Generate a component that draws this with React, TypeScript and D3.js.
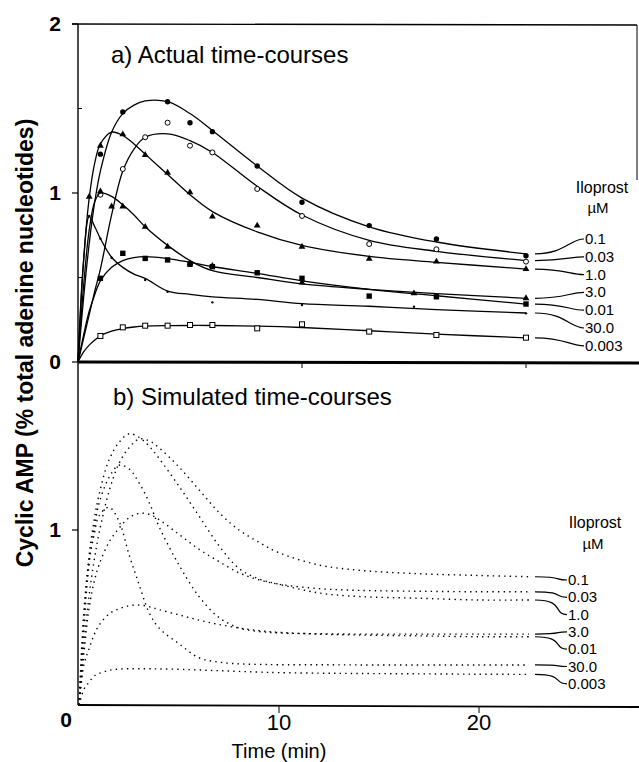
import React from "react";
import * as d3 from "d3";

const FONT = '"Liberation Sans", Arial, Helvetica, sans-serif';

// ---- panel a: fitted curves (time in min, cAMP %) ----
const fitTimes = [0, 0.25, 0.5, 0.75, 1, 1.5, 2, 2.5, 3, 4, 5, 6, 8, 10, 13, 16, 20];
const fit_0_1 = [0, 0.38, 0.7, 0.95, 1.13, 1.36, 1.47, 1.52, 1.545, 1.54, 1.47, 1.37, 1.16, 0.97, 0.8, 0.71, 0.64];
const fit_0_03 = [0, 0.14, 0.28, 0.42, 0.55, 0.87, 1.13, 1.26, 1.33, 1.35, 1.31, 1.24, 1.04, 0.87, 0.72, 0.655, 0.6];
const fit_1_0 = [0, 0.6, 0.97, 1.18, 1.29, 1.36, 1.34, 1.29, 1.23, 1.11, 0.99, 0.89, 0.77, 0.69, 0.625, 0.59, 0.55];
const fit_3_0 = [0, 0.45, 0.78, 0.95, 1.0, 0.98, 0.93, 0.87, 0.8, 0.69, 0.6, 0.54, 0.5, 0.462, 0.43, 0.405, 0.377];
const fit_0_01 = [0, 0.16, 0.3, 0.4, 0.48, 0.56, 0.6, 0.618, 0.623, 0.612, 0.59, 0.565, 0.525, 0.48, 0.43, 0.392, 0.343];
const fit_30 = [0, 0.6, 0.86, 0.8, 0.73, 0.62, 0.56, 0.52, 0.495, 0.42, 0.4, 0.385, 0.37, 0.345, 0.33, 0.31, 0.29];
const fit_0_003 = [0, 0.06, 0.1, 0.13, 0.155, 0.182, 0.198, 0.207, 0.212, 0.215, 0.216, 0.216, 0.212, 0.204, 0.185, 0.165, 0.143];

// ---- panel a: measured points ----
const pts_0_1_t = [1, 2, 4, 5, 6, 8, 10, 13, 16, 20];
const pts_0_1_v = [1.23, 1.48, 1.54, 1.416, 1.363, 1.16, 0.945, 0.807, 0.728, 0.629];
const pts_0_03_t = [1, 2, 3, 4, 5, 6, 8, 10, 13, 16, 20];
const pts_0_03_v = [0.99, 1.142, 1.33, 1.416, 1.28, 1.24, 1.024, 0.864, 0.698, 0.667, 0.594];
const pts_1_0_t = [0.5, 1, 2, 3, 4, 5, 6, 8, 10, 13, 16, 20];
const pts_1_0_v = [0.978, 1.28, 1.347, 1.225, 1.12, 1.004, 0.86, 0.807, 0.682, 0.61, 0.594, 0.55];
const pts_3_0_t = [1, 1.5, 2, 3, 4, 5, 6, 10, 15, 20];
const pts_3_0_v = [1.01, 0.92, 0.92, 0.8, 0.682, 0.584, 0.568, 0.47, 0.406, 0.377];
const pts_0_01_t = [1, 2, 3, 4, 5, 6, 8, 10, 13, 16, 20];
const pts_0_01_v = [0.495, 0.643, 0.613, 0.604, 0.578, 0.564, 0.528, 0.495, 0.39, 0.386, 0.343];
const pts_30_t = [0.5, 1, 1.5, 3, 4, 6, 10, 15, 20];
const pts_30_v = [0.864, 0.73, 0.617, 0.485, 0.416, 0.353, 0.337, 0.327, 0.288];
const pts_0_003_t = [1, 2, 3, 4, 5, 6, 8, 10, 13, 16, 20];
const pts_0_003_v = [0.154, 0.205, 0.215, 0.215, 0.219, 0.219, 0.199, 0.223, 0.18, 0.16, 0.144];

// ---- panel b: simulated curves ----
const simTimes = [0, 0.25, 0.5, 0.75, 1, 1.5, 2, 2.5, 3, 3.5, 4, 5, 6, 7, 8, 9, 10, 12, 14, 17, 20, 22.5];
const sim_0_1 = [0, 0.35, 0.62, 0.82, 0.98, 1.22, 1.38, 1.47, 1.52, 1.51, 1.47, 1.36, 1.23, 1.1, 1.0, 0.93, 0.87, 0.8, 0.77, 0.75, 0.74, 0.733];
const sim_0_03 = [0, 0.3, 0.55, 0.7, 0.8, 0.93, 1.01, 1.07, 1.095, 1.09, 1.06, 0.975, 0.89, 0.82, 0.755, 0.715, 0.69, 0.665, 0.655, 0.65, 0.647, 0.647];
const sim_1_0 = [0, 0.5, 0.85, 1.05, 1.2, 1.4, 1.5, 1.55, 1.53, 1.48, 1.41, 1.25, 1.08, 0.91, 0.78, 0.72, 0.69, 0.64, 0.62, 0.61, 0.6, 0.6];
const sim_3_0 = [0, 0.45, 0.8, 1.0, 1.15, 1.3, 1.37, 1.35, 1.27, 1.16, 1.02, 0.8, 0.62, 0.5, 0.44, 0.42, 0.412, 0.407, 0.405, 0.405, 0.405, 0.405];
const sim_0_01 = [0, 0.23, 0.32, 0.4, 0.455, 0.52, 0.55, 0.567, 0.571, 0.562, 0.545, 0.515, 0.485, 0.46, 0.44, 0.425, 0.415, 0.405, 0.4, 0.395, 0.39, 0.39];
const sim_30 = [0, 0.55, 0.82, 0.97, 1.08, 1.13, 1.05, 0.86, 0.69, 0.53, 0.44, 0.35, 0.27, 0.245, 0.235, 0.232, 0.23, 0.23, 0.229, 0.229, 0.229, 0.229];
const sim_0_003 = [0, 0.09, 0.13, 0.165, 0.18, 0.198, 0.205, 0.207, 0.207, 0.207, 0.206, 0.204, 0.2, 0.196, 0.192, 0.188, 0.185, 0.182, 0.18, 0.178, 0.176, 0.175];

// legend order (top to bottom)
const legendLabels = ["0.1", "0.03", "1.0", "3.0", "0.01", "30.0", "0.003"];

const fitSeries = [
  { label: "0.1", values: fit_0_1, t: pts_0_1_t, v: pts_0_1_v, marker: "filledCircle" },
  { label: "0.03", values: fit_0_03, t: pts_0_03_t, v: pts_0_03_v, marker: "openCircle" },
  { label: "1.0", values: fit_1_0, t: pts_1_0_t, v: pts_1_0_v, marker: "triangle" },
  { label: "3.0", values: fit_3_0, t: pts_3_0_t, v: pts_3_0_v, marker: "triangle" },
  { label: "0.01", values: fit_0_01, t: pts_0_01_t, v: pts_0_01_v, marker: "filledSquare" },
  { label: "30.0", values: fit_30, t: pts_30_t, v: pts_30_v, marker: "dot" },
  { label: "0.003", values: fit_0_003, t: pts_0_003_t, v: pts_0_003_v, marker: "openSquare" },
];

const simSeries = [
  { label: "0.1", values: sim_0_1 },
  { label: "0.03", values: sim_0_03 },
  { label: "1.0", values: sim_1_0 },
  { label: "3.0", values: sim_3_0 },
  { label: "0.01", values: sim_0_01 },
  { label: "30.0", values: sim_30 },
  { label: "0.003", values: sim_0_003 },
];

const W = 639;
const H = 762;

// scales: the two panels were pasted from different plots, so their time axes differ
const xTop = d3.scaleLinear().domain([0, 20]).range([78, 526]);
const yTop = d3.scaleLinear().domain([0, 2]).range([362, 24]);
const xBot = d3.scaleLinear().domain([0, 20]).range([79, 479]);
const yBot = d3.scaleLinear().domain([0, 1]).range([705, 530]);

const leader = (x0: number, y0: number, x1: number, y1: number) =>
  `M${x0},${y0} C${x0 + 30},${y0} ${x1 - 14},${y1} ${x1},${y1}`;

const Marker = ({ type, x, y }: { type: string; x: number; y: number }) => {
  if (type === "filledCircle") return <circle cx={x} cy={y} r={2.7} fill="#000" />;
  if (type === "openCircle") return <circle cx={x} cy={y} r={2.5} fill="#fff" stroke="#000" strokeWidth={1} />;
  if (type === "dot") return <circle cx={x} cy={y} r={1.2} fill="#000" />;
  if (type === "filledSquare") return <rect x={x - 2.7} y={y - 2.7} width={5.4} height={5.4} fill="#000" />;
  if (type === "openSquare")
    return <rect x={x - 2.5} y={y - 2.5} width={5} height={5} fill="#fff" stroke="#000" strokeWidth={1} />;
  const p = d3.symbol().type(d3.symbolTriangle).size(20)() as string;
  return <path d={p} transform={`translate(${x},${y})`} fill="#000" />;
};

export default function App() {
  const fitLine = d3
    .line<number>()
    .x((_, i) => xTop(fitTimes[i]))
    .y((d) => yTop(d))
    .curve(d3.curveCatmullRom.alpha(0.5));
  const simLine = d3
    .line<number>()
    .x((_, i) => xBot(simTimes[i]))
    .y((d) => yBot(d))
    .curve(d3.curveCatmullRom.alpha(0.5));

  const topEndX = xTop(20);
  const botEndX = xBot(simTimes[simTimes.length - 1]);

  return (
    <svg width={W} height={H} style={{ position: "absolute", left: 0, top: 0, background: "#fff" }} fontFamily={FONT}>
      <rect width={W} height={H} fill="#fff" />

      {/* frame + axes */}
      <line x1={72} y1={24} x2={637} y2={25} stroke="#000" strokeWidth={1.4} />
      <line x1={637} y1={25} x2={637} y2={180} stroke="#000" strokeWidth={1} />
      <line x1={78} y1={24} x2={78} y2={705} stroke="#000" strokeWidth={1.4} />
      <line x1={78} y1={362} x2={639} y2={363} stroke="#000" strokeWidth={3} />
      <line x1={78} y1={705} x2={639} y2={707} stroke="#000" strokeWidth={1.8} />

      {/* y ticks, panel a */}
      {[0, 1, 2].map((v) => (
        <g key={"yt" + v}>
          <line x1={72} x2={78} y1={yTop(v)} y2={yTop(v)} stroke="#000" strokeWidth={1.2} />
          <text x={61} y={yTop(v) + 7} textAnchor="end" fontSize={21} fontWeight="bold">
            {v}
          </text>
        </g>
      ))}
      {[0.5, 1.5].map((v) => (
        <line key={"ym" + v} x1={78} x2={82} y1={yTop(v)} y2={yTop(v)} stroke="#000" strokeWidth={1} />
      ))}
      {[10, 20].map((t) => (
        <line key={"xt" + t} x1={xTop(t)} x2={xTop(t)} y1={362} y2={368} stroke="#000" strokeWidth={1} />
      ))}

      {/* panel b ticks */}
      <line x1={72} x2={78} y1={yBot(1)} y2={yBot(1)} stroke="#000" strokeWidth={1.2} />
      <text x={61} y={yBot(1) + 7} textAnchor="end" fontSize={21} fontWeight="bold">
        1
      </text>
      <text x={66} y={727} textAnchor="middle" fontSize={21} fontWeight="bold">
        0
      </text>
      {[10, 20].map((t) => (
        <g key={"bx" + t}>
          <line x1={xBot(t)} x2={xBot(t)} y1={706} y2={713} stroke="#000" strokeWidth={1} />
          <text x={xBot(t)} y={730} textAnchor="middle" fontSize={22}>
            {t}
          </text>
        </g>
      ))}
      <text x={279} y={758} textAnchor="middle" fontSize={20}>
        Time (min)
      </text>
      <text
        transform="translate(33,343) rotate(-90)"
        textAnchor="middle"
        fontSize={23}
        fontWeight="bold"
      >
        Cyclic AMP (% total adenine nucleotides)
      </text>

      {/* titles */}
      <text x={111} y={63} fontSize={24}>
        a) Actual time-courses
      </text>
      <text x={113} y={405} fontSize={24}>
        b) Simulated time-courses
      </text>

      {/* panel a curves & points */}
      {fitSeries.map((s) => (
        <g key={"fit" + s.label}>
          <path d={fitLine(s.values) as string} fill="none" stroke="#000" strokeWidth={1.3} />
          {s.t.map((t, i) => (
            <Marker key={i} type={s.marker} x={xTop(t)} y={yTop(s.v[i])} />
          ))}
        </g>
      ))}

      {/* panel b dotted curves */}
      {simSeries.map((s) => (
        <path
          key={"sim" + s.label}
          d={simLine(s.values) as string}
          fill="none"
          stroke="#000"
          strokeWidth={1.4}
          strokeDasharray="1.4 4.2"
        />
      ))}

      {/* legend a */}
      <text x={602} y={193} textAnchor="middle" fontSize={16}>
        Iloprost
      </text>
      <text x={598} y={213} textAnchor="middle" fontSize={15}>
        µM
      </text>
      {fitSeries.map((s, i) => {
        const yl = 244 + i * 17.8;
        const y0 = yTop(s.values[s.values.length - 1]);
        return (
          <g key={"la" + s.label}>
            <path d={leader(topEndX + 9, y0, 584, yl - 5)} fill="none" stroke="#000" strokeWidth={1.2} />
            <text x={585} y={yl} fontSize={15}>
              {legendLabels[i]}
            </text>
          </g>
        );
      })}

      {/* legend b */}
      <text x={595} y={528} textAnchor="middle" fontSize={16}>
        Iloprost
      </text>
      <text x={593} y={549} textAnchor="middle" fontSize={15}>
        µM
      </text>
      {simSeries.map((s, i) => {
        const yl = 585 + i * 17.3;
        const y0 = yBot(s.values[s.values.length - 1]);
        return (
          <g key={"lb" + s.label}>
            <path d={leader(botEndX + 6, y0, 567, yl - 5)} fill="none" stroke="#000" strokeWidth={1.2} />
            <text x={568} y={yl} fontSize={15}>
              {legendLabels[i]}
            </text>
          </g>
        );
      })}
    </svg>
  );
}
